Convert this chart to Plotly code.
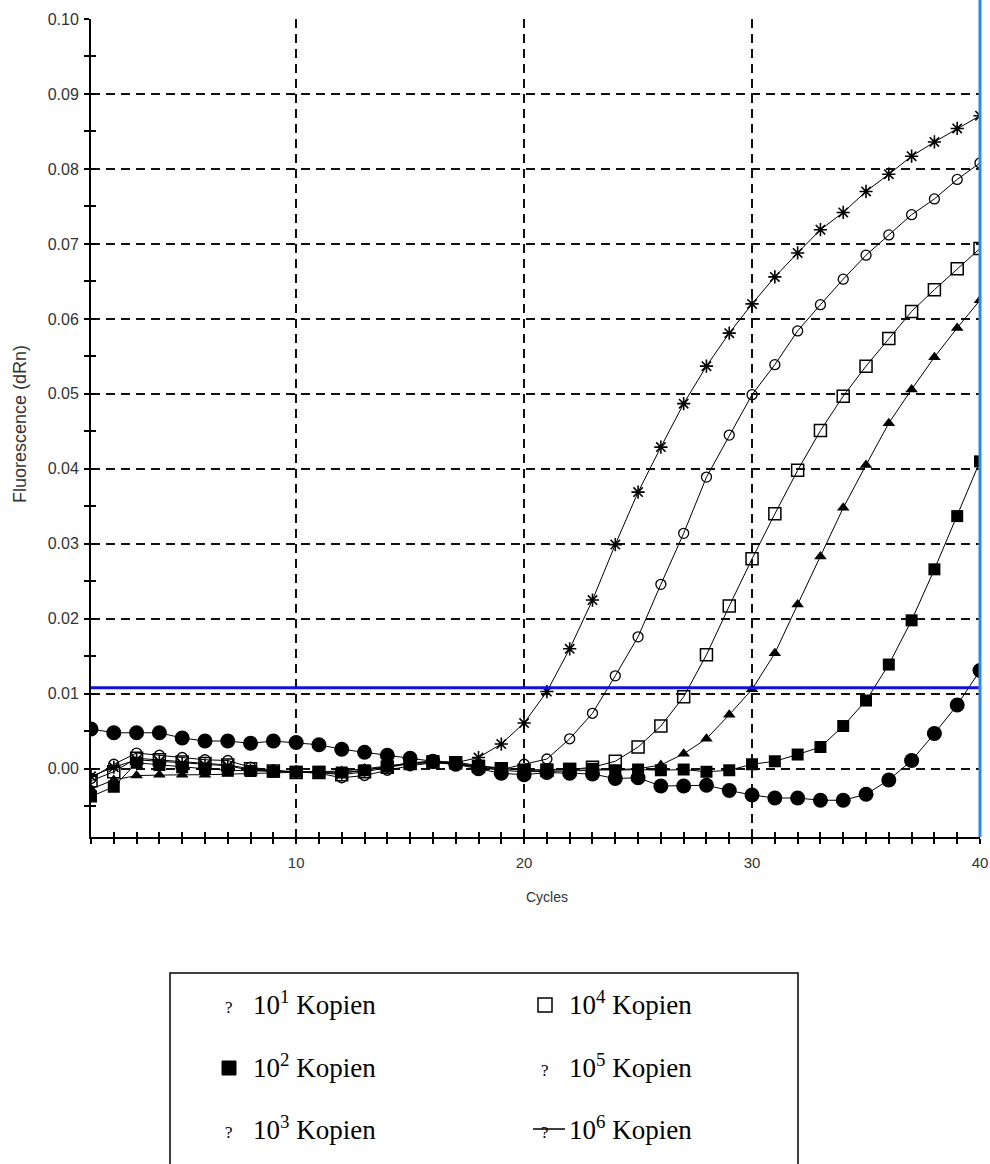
import plotly.graph_objects as go

cycles = list(range(1, 41))

kop_1e1 = [0.0053, 0.0048, 0.0048, 0.0048, 0.0041, 0.0037, 0.0037, 0.0034, 0.0037, 0.0035,
           0.0032, 0.0026, 0.0022, 0.0018, 0.0014, 0.0010, 0.0006, 0.0000, -0.0006, -0.0008,
           -0.0005, -0.0006, -0.0007, -0.0013, -0.0012, -0.0023, -0.0023, -0.0022, -0.0029, -0.0035,
           -0.0039, -0.0039, -0.0042, -0.0042, -0.0034, -0.0015, 0.0011, 0.0047, 0.0085, 0.0131]
kop_1e2 = [-0.0037, -0.0024, 0.0008, 0.0005, 0.0002, 0.0000, -0.0002, -0.0003, -0.0004, -0.0004,
           -0.0004, -0.0005, -0.0002, 0.0003, 0.0008, 0.0010, 0.0009, 0.0004, 0.0001, -0.0002,
           -0.0001, 0.0000, 0.0000, -0.0002, -0.0001, -0.0002, -0.0001, -0.0004, -0.0002, 0.0006,
           0.0010, 0.0019, 0.0029, 0.0057, 0.0091, 0.0139, 0.0198, 0.0266, 0.0337, 0.0410]
kop_1e3 = [-0.0027, -0.0015, -0.0009, -0.0008, -0.0008, -0.0008, -0.0007, -0.0006, -0.0005, -0.0005,
           -0.0004, -0.0003, 0.0000, 0.0004, 0.0007, 0.0008, 0.0006, 0.0002, -0.0002, -0.0004,
           -0.0004, -0.0003, -0.0002, -0.0001, 0.0000, 0.0005, 0.0020, 0.0040, 0.0072, 0.0106,
           0.0154, 0.0219, 0.0283, 0.0348, 0.0405, 0.0461, 0.0506, 0.0549, 0.0588, 0.0625]
kop_1e4 = [-0.0016, -0.0004, 0.0014, 0.0012, 0.0009, 0.0007, 0.0005, 0.0000, -0.0003, -0.0005,
           -0.0005, -0.0008, -0.0004, 0.0002, 0.0007, 0.0009, 0.0008, 0.0003, 0.0000, -0.0002,
           -0.0002, -0.0001, 0.0002, 0.0010, 0.0029, 0.0057, 0.0096, 0.0152, 0.0217, 0.0280,
           0.0340, 0.0398, 0.0451, 0.0497, 0.0537, 0.0574, 0.0610, 0.0639, 0.0667, 0.0694]
kop_1e5 = [-0.0013, 0.0006, 0.0021, 0.0018, 0.0015, 0.0012, 0.0011, 0.0002, -0.0002, -0.0004,
           -0.0006, -0.0012, -0.0009, -0.0002, 0.0004, 0.0008, 0.0007, 0.0002, -0.0001, 0.0006,
           0.0013, 0.0040, 0.0074, 0.0124, 0.0176, 0.0246, 0.0314, 0.0389, 0.0445, 0.0499,
           0.0539, 0.0584, 0.0619, 0.0653, 0.0685, 0.0712, 0.0739, 0.0760, 0.0786, 0.0808]
kop_1e6 = [-0.0010, 0.0002, 0.0012, 0.0010, 0.0007, 0.0005, 0.0004, -0.0002, -0.0003, -0.0004,
           -0.0005, -0.0006, -0.0002, 0.0003, 0.0008, 0.0009, 0.0008, 0.0015, 0.0033, 0.0061,
           0.0103, 0.0160, 0.0225, 0.0299, 0.0369, 0.0429, 0.0487, 0.0537, 0.0581, 0.0620,
           0.0656, 0.0688, 0.0719, 0.0742, 0.0770, 0.0793, 0.0817, 0.0836, 0.0854, 0.0871]

threshold = 0.0108
y_ticks = [0.00, 0.01, 0.02, 0.03, 0.04, 0.05, 0.06, 0.07, 0.08, 0.09, 0.10]
y_ticklabels = ["0.00", "0.01", "0.02", "0.03", "0.04", "0.05", "0.06", "0.07", "0.08", "0.09", "0.10"]
x_ticks = [10, 20, 30, 40]
x_title = "Cycles"
y_title = "Fluorescence (dRn)"

legend_labels = ["10<sup>1</sup> Kopien", "10<sup>2</sup> Kopien", "10<sup>3</sup> Kopien",
                 "10<sup>4</sup> Kopien", "10<sup>5</sup> Kopien", "10<sup>6</sup> Kopien"]

W, H = 990, 1164
L, R, T, B = 91, 980, 19, 837
X_RANGE = [1, 40]
Y_RANGE = [-0.0091, 0.1]

def px(x):
    return (x - L) / (R - L)

def py(y):
    return (B - y) / (B - T)

series = [
    (kop_1e1, dict(symbol="circle", size=15, color="black", line=dict(width=0))),
    (kop_1e2, dict(symbol="square", size=12, color="black", line=dict(width=0))),
    (kop_1e3, dict(symbol="triangle-up", size=11, color="black", line=dict(width=0))),
    (kop_1e4, dict(symbol="square-open", size=12, color="black", line=dict(width=1.5, color="black"))),
    (kop_1e5, dict(symbol="circle-open", size=10, color="black", line=dict(width=1.3, color="black"))),
    (kop_1e6, dict(symbol="asterisk-open", size=11, color="black", line=dict(width=1.6, color="black"))),
]

fig = go.Figure()
for vals, mk in series:
    fig.add_trace(go.Scatter(x=cycles, y=vals, mode="lines+markers",
                             line=dict(color="black", width=1), marker=mk,
                             showlegend=False, hoverinfo="skip"))
# empty trace on overlay axes, used only to draw the inner half of the crossing ticks
fig.add_trace(go.Scatter(x=[None], y=[None], xaxis="x2", yaxis="y2", mode="markers",
                         showlegend=False, hoverinfo="skip"))

sans = "Liberation Sans, Arial, sans-serif"
grid = dict(showgrid=True, gridcolor="#111", gridwidth=1.5, griddash="9px,6px")
fig.update_layout(
    xaxis=dict(range=X_RANGE, tickvals=x_ticks, ticks="outside", ticklen=5, tickwidth=1.5,
               tickcolor="black", showline=True, linecolor="black", linewidth=2,
               minor=dict(dtick=1, tick0=0, ticks="outside", ticklen=5, tickwidth=1.5,
                          tickcolor="black", showgrid=False),
               tickfont=dict(family=sans, size=15, color="#333"), ticklabelstandoff=6,
               zeroline=False, automargin=False, **grid),
    yaxis=dict(range=Y_RANGE, tickvals=y_ticks, ticktext=y_ticklabels,
               ticks="outside", ticklen=5, tickwidth=1.5, tickcolor="black",
               showline=True, linecolor="black", linewidth=2,
               minor=dict(dtick=0.005, tick0=0, ticks="outside", ticklen=5, tickwidth=1.5,
                          tickcolor="black", showgrid=False),
               tickfont=dict(family=sans, size=16, color="#333"), ticklabelstandoff=2,
               zeroline=False, automargin=False, **grid),
    xaxis2=dict(overlaying="x", anchor="y2", side="bottom", range=X_RANGE, tickvals=x_ticks,
                ticks="inside", ticklen=5, tickwidth=1.5, tickcolor="black",
                minor=dict(dtick=1, tick0=0, ticks="inside", ticklen=5, tickwidth=1.5,
                           tickcolor="black", showgrid=False),
                showticklabels=False, showgrid=False, showline=False, zeroline=False,
                automargin=False),
    yaxis2=dict(overlaying="y", anchor="x2", side="left", range=Y_RANGE, tickvals=y_ticks,
                ticks="inside", ticklen=5, tickwidth=1.5, tickcolor="black",
                minor=dict(dtick=0.005, tick0=0, ticks="inside", ticklen=5, tickwidth=1.5,
                           tickcolor="black", showgrid=False),
                showticklabels=False, showgrid=False, showline=False, zeroline=False,
                automargin=False),
)

shapes = [
    dict(type="line", xref="paper", yref="y", x0=0, x1=1, y0=threshold, y1=threshold,
         line=dict(color="#1010e0", width=3), layer="above"),
    dict(type="line", xref="paper", yref="paper", x0=1, x1=1, y0=0, y1=py(0),
         line=dict(color="#2a8ae6", width=3), layer="above"),
    dict(type="rect", xref="paper", yref="paper", x0=px(170), x1=px(798), y0=py(1175), y1=py(973),
         line=dict(color="black", width=1.5), layer="above"),
]

annotations = [
    dict(xref="paper", yref="paper", x=px(547), y=py(897), text=x_title, showarrow=False,
         xanchor="center", yanchor="middle", font=dict(family=sans, size=14, color="#333")),
    dict(xref="paper", yref="paper", x=px(20), y=py(424), text=y_title, showarrow=False,
         textangle=-90, xanchor="center", yanchor="middle",
         font=dict(family=sans, size=18, color="#333")),
]
serif = "Liberation Serif, Times New Roman, serif"
row_y = [1003, 1066, 1128]
col_marker_x = [229, 545]
col_text_x = [251, 567]
marker_kind = [["q", "fs", "q"], ["os", "q", "qs"]]
for ci in range(2):
    for ri in range(3):
        lab = legend_labels[ci * 3 + ri]
        annotations.append(dict(xref="paper", yref="paper", x=px(col_text_x[ci]), y=py(row_y[ri]),
                                xanchor="left", yanchor="middle", text=lab, showarrow=False,
                                font=dict(family=serif, size=27, color="black")))
        kind = marker_kind[ci][ri]
        mx, my = col_marker_x[ci], row_y[ri]
        if kind in ("q", "qs"):
            annotations.append(dict(xref="paper", yref="paper", x=px(mx), y=py(my + 4),
                                    xanchor="center", yanchor="middle", text="?", showarrow=False,
                                    font=dict(family=serif, size=17, color="black")))
            if kind == "qs":
                shapes.append(dict(type="line", xref="paper", yref="paper",
                                   x0=px(mx - 12), x1=px(col_text_x[ci] - 2),
                                   y0=py(my + 1), y1=py(my + 1),
                                   line=dict(color="black", width=1.5)))
        elif kind == "fs":
            shapes.append(dict(type="rect", xref="paper", yref="paper",
                               x0=px(mx - 7), x1=px(mx + 7), y0=py(my + 9), y1=py(my - 5),
                               fillcolor="black", line=dict(color="black", width=1)))
        elif kind == "os":
            shapes.append(dict(type="rect", xref="paper", yref="paper",
                               x0=px(mx - 7), x1=px(mx + 7), y0=py(my + 9), y1=py(my - 5),
                               fillcolor="rgba(0,0,0,0)", line=dict(color="black", width=1.5)))

fig.update_layout(width=W, height=H, autosize=False,
                  margin=dict(l=L, r=W - R, t=T, b=H - B, pad=0, autoexpand=False),
                  paper_bgcolor="white", plot_bgcolor="white",
                  shapes=shapes, annotations=annotations, showlegend=False)

fig.write_html("out.html")
